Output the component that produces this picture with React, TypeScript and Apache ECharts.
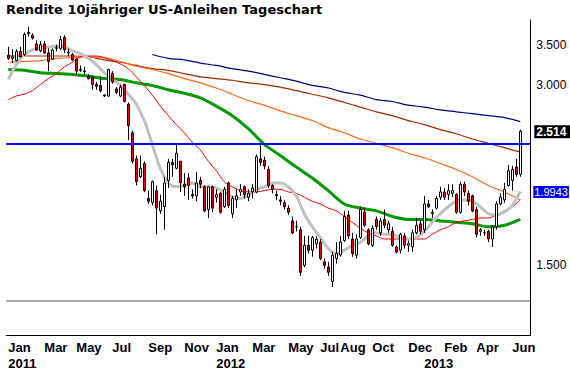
import React, { useEffect, useRef } from "react";
import * as echarts from "echarts";

const chartTitle = "Rendite 10jähriger US-Anleihen Tageschart";
const firstWeek = "2011-01-03";
const weekSlots = 131; // 129 weekly candles + 2 empty slots before the axis

const tickWeeks = [0, 9, 17, 26, 35, 44, 52, 61, 70, 78, 83, 91, 100, 104, 109, 117, 126];
const tickLabels = ["Jan\n2011", "Mar", "May", "Jul", "Sep", "Nov", "Jan\n2012", "Mar", "May", "Jul", "Aug", "Oct", "Dec", " \n2013", "Feb", "Apr", "Jun"];

const opens = [
  3.37, 3.33, 3.30, 3.42, 3.38, 3.66, 3.64, 3.52, 3.43, 3.52,
  3.40, 3.32, 3.46, 3.46, 3.61, 3.41, 3.38, 3.32, 3.18, 3.17,
  3.11, 3.09, 3.01, 3.00, 2.89, 2.88, 3.14, 2.96, 2.88, 3.01,
  2.79, 2.50, 2.26, 2.11, 2.22, 1.94, 1.91, 2.00, 1.85, 1.88,
  2.08, 2.23, 2.18, 2.24, 2.05, 2.10, 1.97, 1.96, 2.08, 2.03,
  1.86, 2.03, 1.95, 1.98, 1.88, 2.06, 1.83, 1.93, 1.99, 2.03,
  1.95, 1.99, 1.99, 2.26, 2.25, 2.17, 2.04, 1.97, 1.93, 1.91,
  1.87, 1.78, 1.74, 1.72, 1.50, 1.62, 1.59, 1.63, 1.64, 1.52,
  1.49, 1.41, 1.54, 1.56, 1.65, 1.82, 1.66, 1.56, 1.67, 1.84,
  1.72, 1.62, 1.79, 1.70, 1.79, 1.72, 1.71, 1.61, 1.59, 1.68,
  1.62, 1.61, 1.70, 1.76, 1.72, 1.90, 1.83, 1.87, 1.95, 1.99,
  1.97, 1.98, 1.97, 1.84, 2.05, 1.98, 1.96, 1.86, 1.71, 1.70,
  1.71, 1.66, 1.74, 1.90, 1.93, 2.04, 2.08, 2.19, 2.13,
];
const highs = [
  3.48, 3.45, 3.45, 3.48, 3.68, 3.76, 3.67, 3.57, 3.56, 3.56,
  3.46, 3.46, 3.51, 3.63, 3.64, 3.46, 3.40, 3.33, 3.24, 3.22,
  3.13, 3.11, 3.04, 3.11, 2.90, 3.20, 3.17, 2.98, 3.01, 3.02,
  2.81, 2.52, 2.29, 2.29, 2.24, 2.00, 2.08, 2.04, 1.97, 2.11,
  2.26, 2.26, 2.40, 2.24, 2.14, 2.14, 2.01, 2.15, 2.11, 2.04,
  2.03, 2.04, 2.01, 1.99, 2.03, 2.07, 1.96, 2.01, 2.05, 2.04,
  2.01, 2.05, 2.30, 2.39, 2.28, 2.20, 2.05, 2.00, 1.96, 1.93,
  1.89, 1.81, 1.78, 1.74, 1.68, 1.68, 1.68, 1.68, 1.66, 1.54,
  1.52, 1.58, 1.64, 1.68, 1.85, 1.85, 1.70, 1.69, 1.88, 1.87,
  1.73, 1.75, 1.81, 1.80, 1.86, 1.78, 1.74, 1.62, 1.70, 1.70,
  1.65, 1.72, 1.80, 1.79, 1.96, 1.93, 1.86, 1.96, 2.03, 2.02,
  2.05, 2.05, 1.98, 2.07, 2.07, 2.00, 1.97, 1.88, 1.73, 1.72,
  1.72, 1.75, 1.92, 1.98, 2.06, 2.21, 2.20, 2.26, 2.53,
];
const lows = [
  3.31, 3.27, 3.29, 3.34, 3.36, 3.62, 3.58, 3.43, 3.41, 3.39,
  3.17, 3.31, 3.42, 3.44, 3.40, 3.36, 3.30, 3.13, 3.16, 3.13,
  3.07, 2.95, 2.95, 2.92, 2.87, 2.87, 3.02, 2.90, 2.87, 2.81,
  2.43, 2.22, 2.04, 2.10, 1.99, 1.90, 1.89, 1.69, 1.83, 1.72,
  2.02, 2.11, 2.17, 1.99, 1.96, 1.93, 1.94, 1.92, 2.02, 1.84,
  1.80, 1.84, 1.91, 1.83, 1.87, 1.87, 1.80, 1.87, 1.96, 1.94,
  1.92, 1.94, 1.98, 2.20, 2.17, 2.02, 1.98, 1.93, 1.89, 1.86,
  1.82, 1.69, 1.71, 1.44, 1.49, 1.57, 1.55, 1.60, 1.53, 1.48,
  1.44, 1.38, 1.51, 1.55, 1.64, 1.66, 1.55, 1.54, 1.66, 1.74,
  1.62, 1.61, 1.72, 1.68, 1.73, 1.70, 1.61, 1.57, 1.57, 1.60,
  1.58, 1.58, 1.69, 1.69, 1.70, 1.87, 1.80, 1.86, 1.93, 1.93,
  1.93, 1.95, 1.83, 1.83, 1.96, 1.89, 1.84, 1.67, 1.68, 1.68,
  1.64, 1.61, 1.72, 1.89, 1.91, 2.03, 2.00, 2.11, 2.11,
];
const closes = [
  3.33, 3.35, 3.42, 3.35, 3.65, 3.68, 3.60, 3.44, 3.51, 3.40,
  3.29, 3.44, 3.47, 3.58, 3.44, 3.40, 3.31, 3.17, 3.19, 3.16,
  3.08, 3.01, 2.99, 2.94, 2.88, 3.19, 3.04, 2.92, 2.98, 2.82,
  2.57, 2.24, 2.07, 2.18, 2.00, 1.92, 2.07, 1.87, 1.92, 2.06,
  2.23, 2.21, 2.31, 2.06, 2.03, 2.04, 1.96, 2.06, 2.05, 1.85,
  2.03, 1.87, 1.97, 1.84, 2.01, 1.89, 1.94, 1.96, 2.01, 1.97,
  1.98, 2.02, 2.28, 2.23, 2.20, 2.04, 2.01, 1.96, 1.92, 1.88,
  1.84, 1.70, 1.74, 1.46, 1.62, 1.59, 1.67, 1.66, 1.54, 1.50,
  1.46, 1.56, 1.57, 1.64, 1.81, 1.68, 1.57, 1.66, 1.86, 1.75,
  1.63, 1.73, 1.74, 1.78, 1.75, 1.76, 1.62, 1.58, 1.69, 1.62,
  1.63, 1.70, 1.75, 1.71, 1.90, 1.88, 1.84, 1.94, 1.99, 1.95,
  2.00, 2.00, 1.84, 2.05, 1.99, 1.92, 1.85, 1.69, 1.72, 1.70,
  1.66, 1.74, 1.90, 1.95, 2.01, 2.16, 2.17, 2.13, 2.514,
];

// moving-average lines, read every 4th / every 2nd week
const quarterWeeks = [0, 4, 8, 12, 16, 20, 24, 28, 32, 36, 40, 44, 48, 52, 56, 60, 64, 68, 72, 76, 80, 84, 88, 92, 96, 100, 104, 108, 112, 116, 120, 124, 128];
const brownLine = [3.36, 3.36, 3.36, 3.36, 3.36, 3.35, 3.31, 3.28, 3.24, 3.20, 3.18, 3.14, 3.10, 3.08, 3.06, 3.03, 3.01, 2.98, 2.94, 2.90, 2.86, 2.81, 2.76, 2.71, 2.67, 2.62, 2.58, 2.53, 2.49, 2.44, 2.40, 2.36, 2.32];
const orangeLine = [3.28, 3.29, 3.30, 3.33, 3.34, 3.35, 3.34, 3.29, 3.23, 3.19, 3.14, 3.08, 3.03, 2.97, 2.90, 2.83, 2.78, 2.72, 2.67, 2.62, 2.55, 2.50, 2.44, 2.40, 2.36, 2.31, 2.27, 2.22, 2.17, 2.11, 2.04, 1.99, 1.93];
const greenLine = [3.19, 3.18, 3.15, 3.14, 3.13, 3.11, 3.08, 3.07, 3.03, 3.00, 2.95, 2.91, 2.86, 2.77, 2.67, 2.54, 2.39, 2.29, 2.19, 2.10, 2.00, 1.90, 1.87, 1.85, 1.81, 1.79, 1.79, 1.78, 1.77, 1.76, 1.74, 1.75, 1.79];
const navyWeeks = [36, 40, 44, 48, 52, 56, 60, 64, 68, 72, 76, 80, 84, 88, 92, 96, 100, 104, 108, 112, 116, 120, 124, 128];
const navyLine = [3.38, 3.33, 3.31, 3.27, 3.24, 3.20, 3.17, 3.13, 3.09, 3.05, 3.00, 2.97, 2.92, 2.89, 2.84, 2.82, 2.78, 2.76, 2.73, 2.71, 2.69, 2.67, 2.65, 2.61];
const halfWeeks = [0, 2, 4, 6, 8, 10, 12, 14, 16, 18, 20, 22, 24, 26, 28, 30, 32, 34, 36, 38, 40, 42, 44, 46, 48, 50, 52, 54, 56, 58, 60, 62, 64, 66, 68, 70, 72, 74, 76, 78, 80, 82, 84, 86, 88, 90, 92, 94, 96, 98, 100, 102, 104, 106, 108, 110, 112, 114, 116, 118, 120, 122, 124, 126, 128];
const redLine = [2.84, 2.88, 2.90, 2.94, 3.01, 3.08, 3.14, 3.22, 3.28, 3.35, 3.36, 3.36, 3.34, 3.30, 3.26, 3.20, 3.10, 3.00, 2.89, 2.77, 2.67, 2.58, 2.50, 2.41, 2.34, 2.24, 2.16, 2.07, 2.03, 2.00, 1.99, 1.99, 2.00, 2.01, 2.01, 1.99, 1.98, 1.95, 1.92, 1.90, 1.87, 1.85, 1.81, 1.77, 1.73, 1.70, 1.68, 1.66, 1.66, 1.66, 1.66, 1.66, 1.66, 1.69, 1.72, 1.74, 1.77, 1.78, 1.79, 1.80, 1.80, 1.82, 1.85, 1.88, 1.93];
const grayLine = [3.07, 3.25, 3.38, 3.44, 3.47, 3.48, 3.49, 3.48, 3.43, 3.39, 3.33, 3.25, 3.15, 3.07, 3.00, 2.90, 2.79, 2.62, 2.39, 2.18, 2.06, 2.03, 2.04, 2.06, 2.03, 2.03, 2.02, 1.99, 1.95, 1.94, 1.96, 2.01, 2.03, 2.06, 2.06, 2.03, 1.96, 1.83, 1.74, 1.67, 1.60, 1.57, 1.59, 1.62, 1.64, 1.68, 1.70, 1.69, 1.69, 1.67, 1.66, 1.67, 1.71, 1.77, 1.83, 1.88, 1.92, 1.93, 1.92, 1.88, 1.83, 1.82, 1.84, 1.89, 1.9943];

const resistanceLevel = 2.40;
const supportLevel = 1.31;
const axisTickValues = [3.5, 3.0, 1.5];
const axisTickTexts = ["3.500", "3.000", "1.500"];
const lastClose = 2.514;
const lastCloseText = "2.514";
const grayLast = 1.9943;
const grayLastText = "1.9943";
const yMin = 1.1467;
const yMax = 3.86;

function buildWeeks(): string[] {
  const out: string[] = [];
  const d = new Date(firstWeek + "T00:00:00Z");
  for (let i = 0; i < weekSlots; i++) {
    out.push(d.toISOString().slice(0, 10));
    d.setUTCDate(d.getUTCDate() + 7);
  }
  return out;
}

const zip = (xs: number[], ys: number[]) => xs.map((x, i) => [x, ys[i]]);

export default function App() {
  const ref = useRef<HTMLDivElement>(null);
  useEffect(() => {
    if (!ref.current) return;
    const chart = echarts.init(ref.current, null, { renderer: "svg" });
    const weeks = buildWeeks();
    const candles = opens.map((o, i) => [o, closes[i], lows[i], highs[i]]);
    const lineBase = { type: "line", symbol: "none", showSymbol: false, smooth: 0.3, silent: true, connectNulls: true };
    const invisible = { color: "rgba(0,0,0,0)", width: 0 };
    const tickMarks = axisTickValues.map((v, i) => ({
      yAxis: v,
      lineStyle: invisible,
      label: { formatter: axisTickTexts[i], color: "#000", fontFamily: "Liberation Sans", fontSize: 12, distance: 6 },
    }));
    const option: any = {
      animation: false,
      backgroundColor: "#fff",
      title: {
        text: chartTitle,
        left: 6,
        top: 3,
        padding: 0,
        textStyle: { fontFamily: "DejaVu Sans", fontWeight: "bold", fontSize: 13, color: "#000" },
      },
      grid: { left: 6.3, right: 39.7, top: 20, bottom: 33 },
      xAxis: {
        type: "category",
        data: weeks,
        boundaryGap: true,
        axisLine: { lineStyle: { color: "#000", width: 1 } },
        axisTick: { show: false },
        splitLine: { show: false },
        axisLabel: {
          interval: (idx: number) => tickWeeks.includes(idx),
          formatter: (_v: string, idx: number) => {
            const k = tickWeeks.indexOf(idx);
            return k >= 0 ? tickLabels[k] : "";
          },
          align: "left",
          margin: 4,
          fontFamily: "Liberation Sans",
          fontWeight: "bold",
          fontSize: 13,
          lineHeight: 16,
          color: "#000",
        },
      },
      yAxis: {
        type: "log",
        logBase: 10,
        min: yMin,
        max: yMax,
        position: "right",
        axisLine: { show: true, lineStyle: { color: "#000", width: 1 } },
        axisTick: { show: false },
        axisLabel: { show: false },
        splitLine: { show: false },
      },
      series: [
        { ...lineBase, name: "navy", data: zip(navyWeeks, navyLine), lineStyle: { color: "#000080", width: 1.2 }, z: 2 },
        { ...lineBase, name: "brown", data: zip(quarterWeeks, brownLine), lineStyle: { color: "#a02c00", width: 1.2 }, z: 2 },
        { ...lineBase, name: "orange", data: zip(quarterWeeks, orangeLine), lineStyle: { color: "#ff6a1a", width: 1.2 }, z: 2 },
        { ...lineBase, name: "green", data: zip(quarterWeeks, greenLine), lineStyle: { color: "#009a00", width: 3 }, z: 2 },
        { ...lineBase, name: "red", data: zip(halfWeeks, redLine), lineStyle: { color: "#ff0000", width: 1 }, z: 2 },
        { ...lineBase, name: "gray", data: zip(halfWeeks, grayLine), lineStyle: { color: "#c0c0c0", width: 3 }, z: 2 },
        {
          type: "candlestick",
          name: "yield",
          data: candles,
          barWidth: 3,
          silent: true,
          z: 3,
          itemStyle: { color: "#ffffff", color0: "#ee0000", borderColor: "#000", borderColor0: "#000", borderWidth: 1 },
          markLine: {
            silent: true,
            symbol: ["none", "none"],
            animation: false,
            label: { position: "end" },
            data: [
              { yAxis: resistanceLevel, lineStyle: { color: "#0000ff", width: 2, type: "solid" }, label: { show: false } },
              { yAxis: supportLevel, lineStyle: { color: "#a8a8a8", width: 2, type: "solid" }, label: { show: false } },
              ...tickMarks,
              {
                yAxis: lastClose,
                lineStyle: invisible,
                label: { formatter: lastCloseText, color: "#fff", backgroundColor: "#000", padding: [1, 4, 0, 2], fontFamily: "Liberation Sans", fontWeight: "bold", fontSize: 12, distance: 4 },
              },
              {
                yAxis: grayLast,
                lineStyle: invisible,
                label: { formatter: grayLastText, color: "#fff", backgroundColor: "#0000ff", padding: [1, 1, 0, 1], fontFamily: "Liberation Sans", fontSize: 11, distance: 3 },
              },
            ],
          },
        },
      ],
    };
    chart.setOption(option);
    return () => chart.dispose();
  }, []);
  return <div ref={ref} style={{ position: "fixed", left: 0, top: 0, width: 570, height: 371 }} />;
}
